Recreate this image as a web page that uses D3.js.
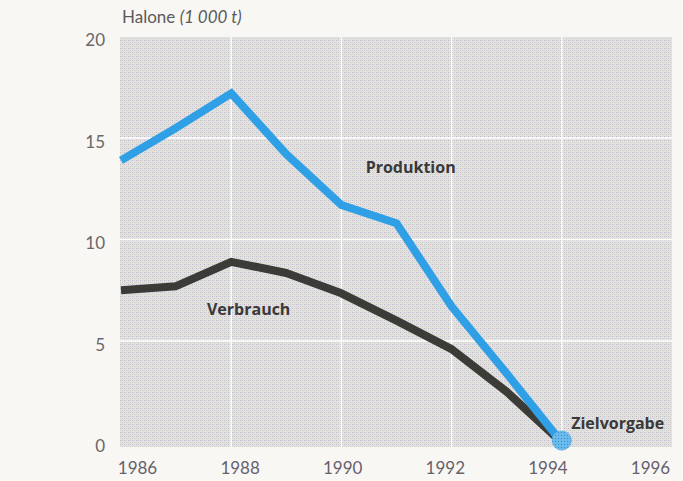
<!DOCTYPE html>
<html><head><meta charset="utf-8">
<script src="https://cdn.jsdelivr.net/npm/d3@7"></script>
<style>
html,body{margin:0;padding:0;background:#f8f7f4;}
svg{display:block;}
</style></head>
<body>
<svg id="chart" width="683" height="481"></svg>
<script>
const years = [1986, 1987, 1988, 1989, 1990, 1991, 1992, 1993, 1994];
const production = [13.9, 15.5, 17.2, 14.2, 11.7, 10.8, 6.7, 3.4, 0];
const consumption = [7.5, 7.7, 8.9, 8.35, 7.35, 6.0, 4.6, 2.5, 0];
const xTicks = [1986, 1988, 1990, 1992, 1994, 1996];
const yTicks = [0, 5, 10, 15, 20];
const seriesLabels = ["Produktion", "Verbrauch", "Zielvorgabe"];
const targetYear = 1994, targetValue = 0;
const yTitle = "Halone", yUnit = "(1 000 t)";

const svg = d3.select("#chart");
const x = d3.scaleLinear().domain([1986, 1996]).range([121, 672]);
const xLab = d3.scaleLinear().domain([1986, 1996]).range([137, 650]);
const y = d3.scaleLinear().domain([0, 20]).range([442.5, 36.5]);

// halftone pattern
const defs = svg.append("defs");
const pat = defs.append("pattern").attr("id","ht").attr("width",4).attr("height",4).attr("patternUnits","userSpaceOnUse");
pat.append("rect").attr("width",4).attr("height",4).attr("fill","#e3e1e2");
pat.append("rect").attr("x",0).attr("y",0).attr("width",1).attr("height",1).attr("fill","#c3b9c8");
pat.append("rect").attr("x",2).attr("y",2).attr("width",1).attr("height",1).attr("fill","#c6cdc2");
pat.append("rect").attr("x",2).attr("y",0).attr("width",1).attr("height",1).attr("fill","#d6d0d9");
pat.append("rect").attr("x",0).attr("y",2).attr("width",1).attr("height",1).attr("fill","#d3d8cf");
const pat2 = defs.append("pattern").attr("id","ht2").attr("width",3).attr("height",3).attr("patternUnits","userSpaceOnUse");
pat2.append("rect").attr("width",3).attr("height",3).attr("fill","#6cbaea");
pat2.append("rect").attr("width",1).attr("height",1).attr("fill","#2d8fd6");

// plot background
svg.append("rect").attr("x", 120).attr("y", 37).attr("width", 552).attr("height", 410).attr("fill", "url(#ht)");

// grid
const g = svg.append("g");
g.selectAll(".vg").data(xTicks.filter(d => d > 1986 && d < 1996)).join("line")
  .attr("x1", d => x(d)).attr("x2", d => x(d)).attr("y1", 37).attr("y2", 447)
  .attr("stroke", "#ffffff").attr("stroke-width", 1.3);
g.selectAll(".hg").data(yTicks.filter(d => d > 0 && d < 20)).join("line")
  .attr("x1", 120).attr("x2", 672).attr("y1", d => y(d)).attr("y2", d => y(d))
  .attr("stroke", "#ffffff").attr("stroke-width", 1.3);

// axes
const xAxis = svg.append("g").attr("transform", "translate(0,462)")
  .call(d3.axisBottom(xLab).tickValues(xTicks).tickFormat(d3.format("d")).tickSize(0).tickPadding(0));
xAxis.select(".domain").remove();
xAxis.selectAll("text").attr("font-family", "Lato, 'Open Sans', sans-serif").attr("font-size", 17)
  .attr("fill", "#67616d").attr("dy", "0.71em");

const yAxis = svg.append("g").attr("transform", "translate(105,4)")
  .call(d3.axisLeft(y).tickValues(yTicks).tickFormat(d3.format("d")).tickSize(0).tickPadding(0));
yAxis.select(".domain").remove();
yAxis.selectAll("text").attr("font-family", "Lato, 'Open Sans', sans-serif").attr("font-size", 17)
  .attr("fill", "#686868");

// title
const t = svg.append("text").attr("x", 122).attr("y", 23)
  .attr("font-family", "Lato, 'Open Sans', sans-serif").attr("font-size", 17).attr("fill", "#5a5a5a");
t.append("tspan").text(yTitle + " ");
t.append("tspan").attr("font-style", "italic").text(yUnit);

// lines
const line = d3.line().x((d, i) => x(years[i])).y(d => y(d));
svg.append("path").datum(consumption).attr("d", line)
  .attr("fill", "none").attr("stroke", "#3b3b38").attr("stroke-width", 8).attr("stroke-linejoin", "round");
svg.append("path").datum(production).attr("d", line)
  .attr("fill", "none").attr("stroke", "#2f9fe6").attr("stroke-width", 8).attr("stroke-linejoin", "miter");

// target
svg.append("circle").attr("cx", x(targetYear)).attr("cy", y(targetValue) - 2).attr("r", 10)
  .attr("fill", "url(#ht2)");

// labels
const lab = [
  {t: seriesLabels[0], x: 1990.44, v: 13.3},
  {t: seriesLabels[1], x: 1987.56, v: 6.28},
  {t: seriesLabels[2], x: 1994.17, v: 0.66}
];
svg.selectAll(".lab").data(lab).join("text")
  .attr("x", d => x(d.x)).attr("y", d => y(d.v))
  .attr("font-family", "'Open Sans', Lato, sans-serif").attr("font-weight", "bold")
  .attr("font-size", 16).attr("fill", "#3a3838").text(d => d.t);
</script>
</body></html>
